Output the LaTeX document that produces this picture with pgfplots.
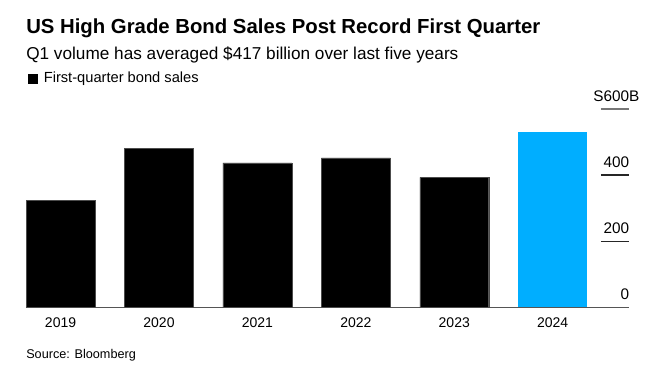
\documentclass[border=0pt]{standalone}
\usepackage{pgfplots}
\pgfplotsset{compat=1.18}
\usepackage{fontspec}
\setmainfont{Liberation Sans}
\definecolor{bbblue}{RGB}{0,174,255}
\definecolor{axisgray}{RGB}{85,85,85}
\begin{document}
\begin{tikzpicture}
\useasboundingbox (0,0) rectangle (498pt,279.75pt);
\node[anchor=base west, inner sep=0pt] at (19.5pt,254.8pt) {\fontsize{15.25pt}{18pt}\selectfont\bfseries US High Grade Bond Sales Post Record First Quarter};
\node[anchor=base west, inner sep=0pt] at (19.5pt,235.3pt) {\fontsize{12.9pt}{15pt}\selectfont Q1 volume has averaged \$417 billion over last five years};
\begin{axis}[
  at={(19.5pt,49.3pt)}, anchor=south west,
  scale only axis, width=452.6pt, height=148.7pt,
  xmin=-0.351, xmax=5.78, ymin=0, ymax=600,
  axis x line*=bottom, axis y line=none,
  x axis line style={axisgray, line width=0.9pt, -},
  xtick={0,1,2,3,4,5},
  xticklabels={2019,2020,2021,2022,2023,2024},
  major tick length=0pt,
  x tick label style={font=\fontsize{10.5pt}{12pt}\selectfont, yshift=-4pt},
  ytick={0,200,400,600},
  bar width=0.70,
  legend style={draw=none, fill=none, inner sep=0pt, outer sep=0pt,
    at={(axis description cs:0.004,1.153)}, anchor=west,
    font=\fontsize{11pt}{13pt}\selectfont,
    /tikz/every odd column/.append style={column sep=2.5pt}},
  legend cell align=left,
  legend image code/.code={\fill[black] (0pt,-3.4pt) rectangle (6.75pt,3.35pt);},
  clip=false,
]
\addplot[ybar, bar shift=0pt, fill=black, draw=black!70, line width=0.3pt] coordinates {(0,323) (1,480) (2,437) (3,452) (4,393)};
\addlegendentry{First-quarter bond sales}
\addplot[ybar, bar shift=0pt, fill=bbblue, draw=none, forget plot] coordinates {(5,529)};
\draw[axisgray!80, line width=0.9pt] (axis cs:5.49,600) -- (axis cs:5.78,600);
\draw[black!85, line width=0.9pt] (axis cs:5.49,400) -- (axis cs:5.78,400);
\draw[black!85, line width=0.9pt] (axis cs:5.49,200) -- (axis cs:5.78,200);
\node[anchor=base east, inner sep=0pt, font=\fontsize{11.5pt}{13pt}\selectfont] at (axis cs:5.78,600) [yshift=5.8pt] {S600\rlap{B}};
\node[anchor=base east, inner sep=0pt, font=\fontsize{11.5pt}{13pt}\selectfont] at (axis cs:5.78,400) [yshift=5.8pt] {400};
\node[anchor=base east, inner sep=0pt, font=\fontsize{11.5pt}{13pt}\selectfont] at (axis cs:5.78,200) [yshift=5.8pt] {200};
\node[anchor=base east, inner sep=0pt, font=\fontsize{11.5pt}{13pt}\selectfont] at (axis cs:5.78,0) [yshift=5.8pt] {0};
\end{axis}
\node[anchor=base west, inner sep=0pt] at (19.5pt,10.5pt) {\fontsize{9.5pt}{11pt}\selectfont Source: Bloomberg};
\end{tikzpicture}
\end{document}
